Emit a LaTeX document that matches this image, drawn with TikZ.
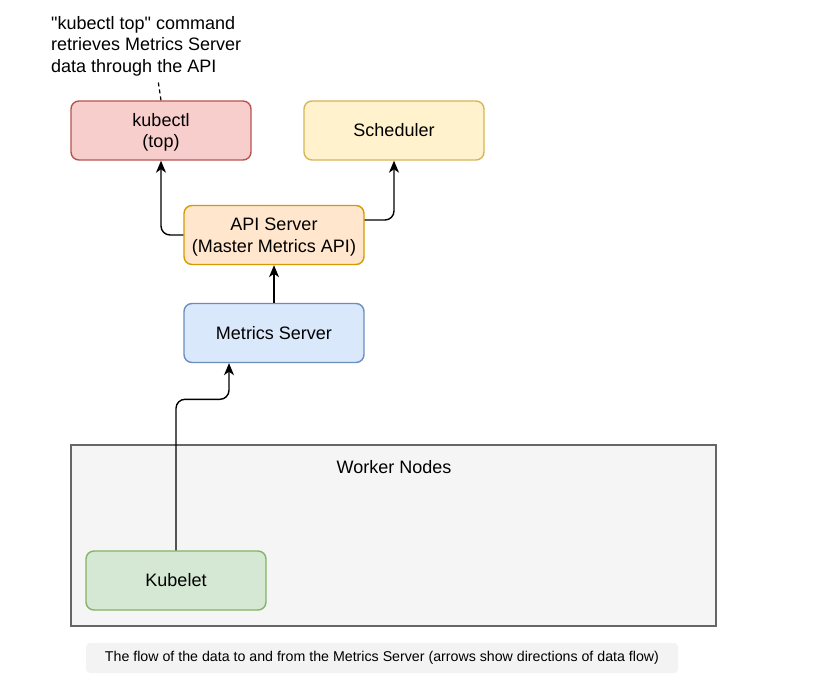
\documentclass[tikz,border=0pt]{standalone}
\usepackage{fontspec}
\setmainfont{Liberation Sans}
\usepackage{tikz}
\usetikzlibrary{arrows.meta}

\definecolor{kubectlfill}{HTML}{F8CECC}\definecolor{kubectlline}{HTML}{B85450}
\definecolor{schedfill}{HTML}{FFF2CC}\definecolor{schedline}{HTML}{D6B656}
\definecolor{apifill}{HTML}{FFE6CC}\definecolor{apiline}{HTML}{D79B00}
\definecolor{metricsfill}{HTML}{DAE8FC}\definecolor{metricsline}{HTML}{6C8EBF}
\definecolor{kubeletfill}{HTML}{D5E8D4}\definecolor{kubeletline}{HTML}{82B366}
\definecolor{workerfill}{HTML}{F5F5F5}\definecolor{workerline}{HTML}{666666}
\definecolor{captionfill}{HTML}{F3F3F3}

\tikzset{
  box/.style={rounded corners=8pt,line width=1.4pt,minimum width=180pt,minimum height=59pt,align=center,font=\fontsize{18}{21.5}\selectfont},
  flow/.style={line width=1.4pt,rounded corners=9pt,-{Stealth[length=12pt,width=10pt,inset=3.5pt]}}
}

\begin{document}
\begin{tikzpicture}[x=1pt,y=-1pt]%[scale=1.0]
\useasboundingbox[fill=white] (0,0) rectangle (822,679);
\node[draw=workerline,fill=workerfill,line width=1.6pt,minimum width=645pt,minimum height=181pt] (workers) at (393.5,535.5) {};
\node[font=\fontsize{18}{21}\selectfont] (workerlabel) at (394,467) {Worker Nodes};
\node[box,draw=kubectlline,fill=kubectlfill,text depth=-2pt] (kubectl) at (161,130.5) {kubectl\\(top)};
\node[box,draw=schedline,fill=schedfill] (scheduler) at (394,130.5) {Scheduler};
\node[box,draw=apiline,fill=apifill,text depth=-2pt] (api) at (274,235) {API Server\\(Master Metrics API)};
\node[box,draw=metricsline,fill=metricsfill] (metrics) at (274,333) {Metrics Server};
\node[box,draw=kubeletline,fill=kubeletfill] (kubelet) at (176,580.5) {Kubelet};
\node[anchor=north west,inner sep=0pt,align=left,font=\fontsize{18}{21.5}\selectfont] (note) at (51,16) {\textquotedbl kubectl top\textquotedbl{} command\\retrieves Metrics Server\\data through the API};
\coordinate (noteend) at (158,80);
\draw[dashed,line width=1.2pt,dash pattern=on 4pt off 3pt] (kubectl.north) -- (noteend);
\draw[flow] (api.west) -| (kubectl.south);
\draw[flow] ([yshift=15pt]api.east) -| (scheduler.south);
\draw[flow] (metrics.north) -- (api.south);
\draw[flow] (kubelet.north) -- ++(0,-151) -| ([xshift=-45pt]metrics.south);
\node[fill=captionfill,rounded corners=4pt,minimum width=592pt,minimum height=30pt,font=\fontsize{14.2}{17}\selectfont] (caption) at (382,658) {The flow of the data to and from the Metrics Server (arrows show directions of data flow)};
\end{tikzpicture}
\end{document}
